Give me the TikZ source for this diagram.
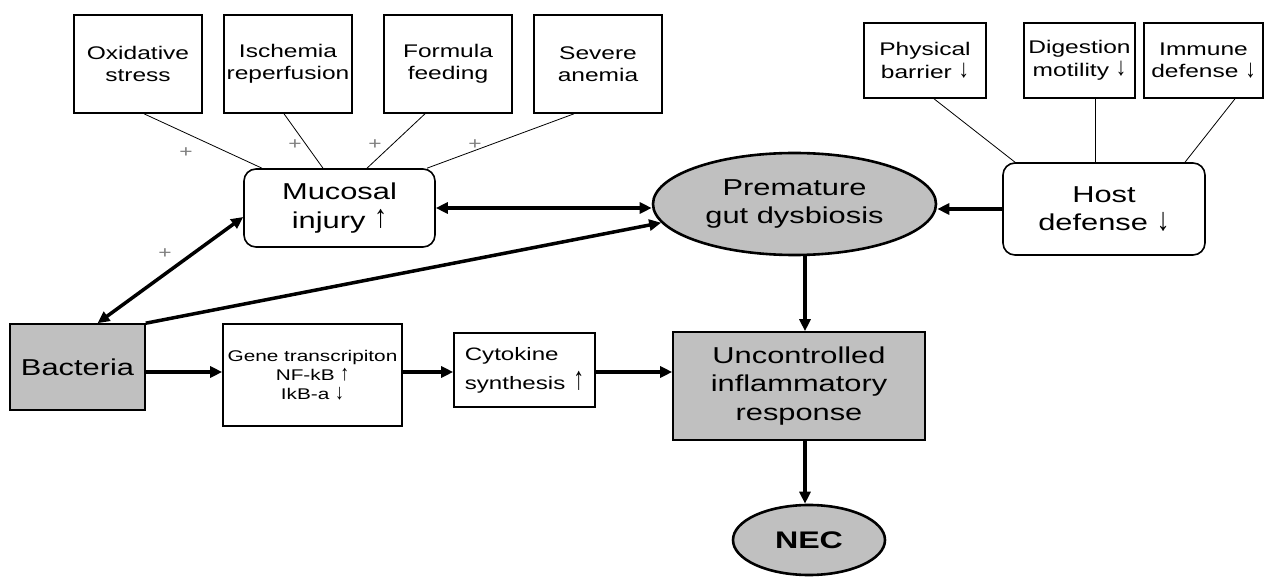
\documentclass[tikz,border=0pt]{standalone}
\usepackage{graphicx}
\usepackage{fontspec}
\setmainfont{Liberation Sans}[FakeStretch=1.34]
\usetikzlibrary{arrows.meta,shapes.geometric}
\definecolor{fillgray}{HTML}{C0C0C0}
\newcommand{\upar}{\raisebox{0.05ex}{\scalebox{0.85}[1.4]{↑}}}
\newcommand{\dnar}{\raisebox{0.05ex}{\scalebox{0.85}[1.4]{↓}}}
\begin{document}
\begin{tikzpicture}[x=1pt,y=-1pt,
  box/.style={draw,line width=1.6pt,inner sep=0pt,align=center},
  small/.style={box,font=\fontsize{18.3}{22.5}\selectfont},
  big/.style={font=\fontsize{23}{28.5}\selectfont},
  rbox/.style={box,rounded corners=12pt,big},
  gbox/.style={box,fill=fillgray,big},
  ell/.style={ellipse,draw,line width=2.6pt,fill=fillgray,inner sep=0pt,align=center},
  arr/.style={line width=3.5pt,-{Triangle[length=12pt,width=11pt]}},
  arrb/.style={line width=3.5pt,{Triangle[length=12pt,width=11pt]}-{Triangle[length=12pt,width=11pt]}},
  link/.style={line width=0.8pt},
  plus/.style={text=gray,font=\fontsize{17}{17}\selectfont,inner sep=0pt}]
\useasboundingbox (0,0) rectangle (1264,577);
% top boxes
\node[small,minimum width=128pt,minimum height=98pt] (ox) at (138,64) {Oxidative\\stress};
\node[small,minimum width=128pt,minimum height=98pt] (isc) at (288,64) {Ischemia\\reperfusion};
\node[small,minimum width=128pt,minimum height=98pt] (form) at (448,64) {Formula\\feeding};
\node[small,minimum width=128pt,minimum height=98pt] (sev) at (598,64) {Severe\\anemia};
\node[rbox,minimum width=191pt,minimum height=78pt] (muc) at (339.5,208) {Mucosal\\injury \upar};
\node[ell,big,minimum width=283pt,minimum height=102pt] (pre) at (794.5,204) {Premature\\gut dysbiosis};
\node[rbox,minimum width=202pt,minimum height=92pt] (host) at (1104,209) {Host\\defense \dnar};
\node[small,minimum width=122pt,minimum height=75pt] (phys) at (925,60.5) {Physical\\barrier \dnar};
\node[small,minimum width=111pt,minimum height=75pt] (dig) at (1079.5,60.5) {Digestion\\motility \dnar};
\node[small,minimum width=119pt,minimum height=75pt] (imm) at (1203.5,60.5) {Immune\\defense \dnar};
\node[gbox,minimum width=135pt,minimum height=86pt] (bac) at (77.5,367) {Bacteria};
\node[box,font=\fontsize{15.5}{19}\selectfont,minimum width=179pt,minimum height=102pt] (gene) at (312.5,375) {Gene transcripiton\\NF-kB \upar\\IkB-a \dnar};
\node[box,font=\fontsize{18}{29}\selectfont,align=left,minimum width=141pt,minimum height=74pt] (cyt) at (524.5,370) {Cytokine\\synthesis\hspace{8pt}\scalebox{0.9}[1.8]{↑}};
\node[gbox,minimum width=252pt,minimum height=108pt] (unc) at (799,386) {Uncontrolled\\inflammatory\\response};
\node[ell,font=\fontsize{24}{24}\selectfont\bfseries,minimum width=152pt,minimum height=70pt] (nec) at (809,540) {NEC};
% helper coordinates
\coordinate (ax) at (805,0);
\coordinate (ay) at (0,372);
% thick connectors
\draw[arrb] (muc.east) -- (muc.east -| pre.west);
\draw[arr] (host.west) -- (host.west -| pre.east);
\draw[arrb] ([xshift=20pt]bac.north) -- ([yshift=-9pt]muc.west);
\draw[arr] (bac.north east) -- (pre.188);
\draw[arr] (pre.south -| ax) -- (unc.north -| ax);
\draw[arr] (unc.south -| ax) -- (nec.north -| ax);
\draw[arr] (bac.east |- ay) -- (gene.west |- ay);
\draw[arr] (gene.east |- ay) -- (cyt.west |- ay);
\draw[arr] (cyt.east |- ay) -- (unc.west |- ay);
% thin links
\draw[link] ([xshift=6pt]ox.south) -- ([xshift=-77.5pt]muc.north);
\draw[link] ([xshift=-4pt]isc.south) -- ([xshift=-16.5pt]muc.north);
\draw[link] ([xshift=-23pt]form.south) -- ([xshift=27.5pt]muc.north);
\draw[link] ([xshift=-24pt]sev.south) -- ([xshift=87.5pt]muc.north);
\draw[link] ([xshift=9pt]phys.south) -- ([xshift=-89pt]host.north);
\draw[link] ([xshift=15.5pt]dig.south) -- ([xshift=-9pt]host.north);
\draw[link] ([xshift=31.5pt]imm.south) -- ([xshift=81pt]host.north);
% plus signs
\node[plus] (p1) at (186,153) {+};
\node[plus] (p2) at (295,145) {+};
\node[plus] (p3) at (375,145) {+};
\node[plus] (p4) at (475,145) {+};
\node[plus] (p5) at (165,254) {+};
\end{tikzpicture}
\end{document}
